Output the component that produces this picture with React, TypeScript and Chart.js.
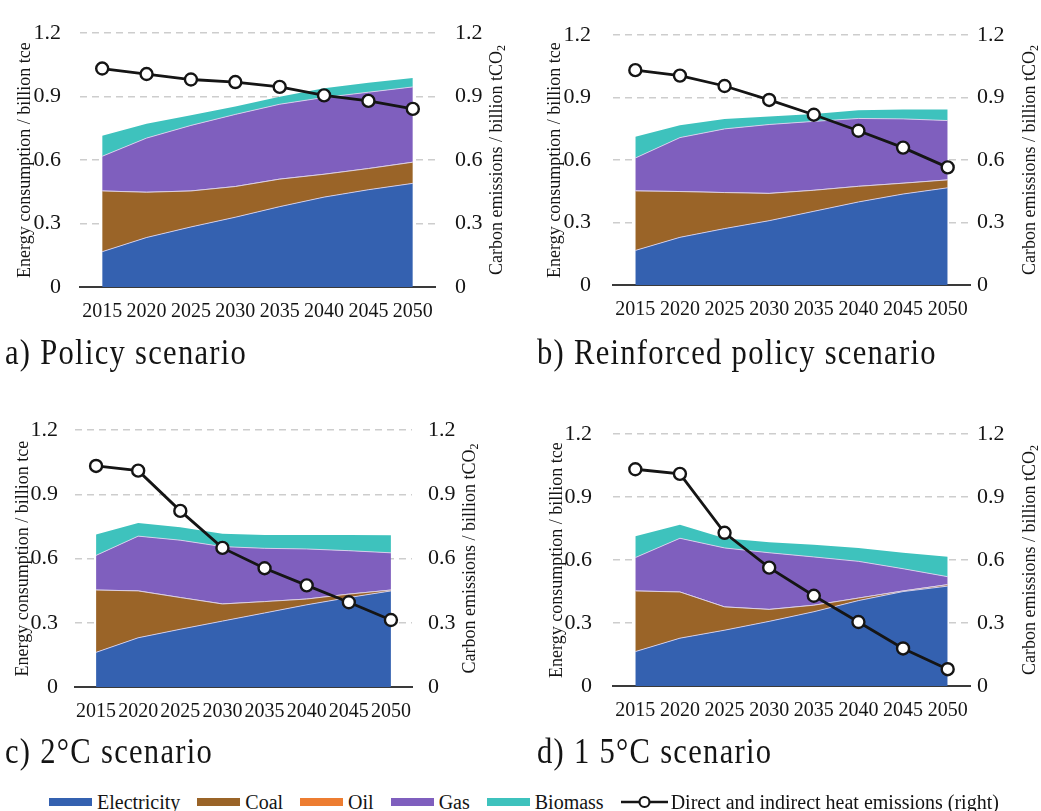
import React, { useEffect, useRef } from 'react';
import { Chart, registerables } from 'chart.js';

Chart.register(...registerables);

// ---------- data ----------
const years = ['2015', '2020', '2025', '2030', '2035', '2040', '2045', '2050'];
const seriesNames = ['Electricity', 'Coal', 'Oil', 'Gas', 'Biomass'];
const lineName = 'Direct and indirect heat emissions (right)';
const leftTitle = 'Energy consumption / billion tce';
const rightTitleMain = 'Carbon emissions / billion tCO';
const rightTitleSub = '2';

// a) Policy scenario
const policyElectricity = [0.167, 0.234, 0.284, 0.33, 0.38, 0.425, 0.46, 0.49];
const policyCoal = [0.287, 0.214, 0.17, 0.145, 0.13, 0.108, 0.1, 0.1];
const policyOil = [0, 0, 0, 0, 0, 0, 0, 0];
const policyGas = [0.164, 0.256, 0.31, 0.341, 0.354, 0.363, 0.361, 0.356];
const policyBiomass = [0.097, 0.068, 0.048, 0.038, 0.035, 0.044, 0.045, 0.042];
const policyEmissions = [1.033, 1.007, 0.981, 0.969, 0.946, 0.906, 0.88, 0.842];

// b) Reinforced policy scenario
const reinforcedElectricity = [0.166, 0.229, 0.271, 0.309, 0.354, 0.399, 0.437, 0.467];
const reinforcedCoal = [0.286, 0.22, 0.173, 0.131, 0.101, 0.075, 0.052, 0.038];
const reinforcedOil = [0, 0, 0, 0, 0, 0, 0, 0];
const reinforcedGas = [0.158, 0.259, 0.306, 0.331, 0.331, 0.326, 0.309, 0.285];
const reinforcedBiomass = [0.102, 0.06, 0.048, 0.038, 0.035, 0.039, 0.045, 0.053];
const reinforcedEmissions = [1.032, 1.006, 0.956, 0.889, 0.818, 0.741, 0.66, 0.565];

// c) 2°C scenario
const twoDegElectricity = [0.162, 0.23, 0.27, 0.308, 0.346, 0.384, 0.418, 0.449];
const twoDegCoal = [0.291, 0.219, 0.148, 0.08, 0.053, 0.027, 0.016, 0.004];
const twoDegOil = [0, 0, 0, 0, 0, 0, 0, 0];
const twoDegGas = [0.162, 0.256, 0.268, 0.268, 0.249, 0.234, 0.203, 0.174];
const twoDegBiomass = [0.098, 0.061, 0.06, 0.06, 0.062, 0.065, 0.073, 0.082];
const twoDegEmissions = [1.033, 1.011, 0.823, 0.65, 0.555, 0.475, 0.396, 0.313];

// d) 1.5°C scenario
const oneFiveElectricity = [0.164, 0.228, 0.266, 0.308, 0.354, 0.407, 0.45, 0.476];
const oneFiveCoal = [0.289, 0.22, 0.111, 0.057, 0.031, 0.012, 0.003, 0.007];
const oneFiveOil = [0, 0, 0, 0, 0, 0, 0, 0];
const oneFiveGas = [0.159, 0.256, 0.281, 0.27, 0.23, 0.175, 0.106, 0.038];
const oneFiveBiomass = [0.102, 0.065, 0.046, 0.05, 0.058, 0.064, 0.076, 0.095];
const oneFiveEmissions = [1.033, 1.011, 0.73, 0.564, 0.43, 0.305, 0.179, 0.08];

const yMin = 0;
const yMax = 1.2;
const yStep = 0.3;

// ---------- styles ----------
const COLORS = ['#3461b0', '#9a6428', '#ed7d31', '#7f5fbe', '#3ec2bd'];
const FONT = '"Liberation Serif", "DejaVu Serif", "Times New Roman", Times, serif';
const TEXT = '#141414';

type Layout = {
  left: number; top: number; width: number; height: number;
  areaLeft: number; areaRight: number; areaTop: number; areaBottom: number;
  leftTickPad: number; leftTitleX: number; rightTickPad: number; rightTitleX: number;
};

type Panel = {
  caption: string;
  captionLeft: number;
  captionTop: number;
  layout: Layout;
  series: number[][];
  emissions: number[];
};

const panels: Panel[] = [
  {
    caption: 'a) Policy scenario', captionLeft: 5, captionTop: 334,
    layout: { left: 0, top: 0, width: 515, height: 337, areaLeft: 80, areaRight: 435, areaTop: 20, areaBottom: 287, leftTickPad: 19, leftTitleX: 25, rightTickPad: 20, rightTitleX: 497 },
    series: [policyElectricity, policyCoal, policyOil, policyGas, policyBiomass],
    emissions: policyEmissions,
  },
  {
    caption: 'b) Reinforced policy scenario', captionLeft: 537, captionTop: 334,
    layout: { left: 520, top: 0, width: 521, height: 337, areaLeft: 93, areaRight: 450, areaTop: 19, areaBottom: 285, leftTickPad: 22, leftTitleX: 35, rightTickPad: 7, rightTitleX: 510 },
    series: [reinforcedElectricity, reinforcedCoal, reinforcedOil, reinforcedGas, reinforcedBiomass],
    emissions: reinforcedEmissions,
  },
  {
    caption: 'c) 2°C scenario', captionLeft: 5, captionTop: 733,
    layout: { left: 0, top: 400, width: 515, height: 337, areaLeft: 75, areaRight: 412, areaTop: 23, areaBottom: 287, leftTickPad: 17, leftTitleX: 23, rightTickPad: 16, rightTitleX: 470 },
    series: [twoDegElectricity, twoDegCoal, twoDegOil, twoDegGas, twoDegBiomass],
    emissions: twoDegEmissions,
  },
  {
    caption: 'd) 1 5°C scenario', captionLeft: 537, captionTop: 733,
    layout: { left: 520, top: 400, width: 521, height: 337, areaLeft: 93, areaRight: 450, areaTop: 23, areaBottom: 286, leftTickPad: 21, leftTitleX: 37, rightTickPad: 7, rightTitleX: 510 },
    series: [oneFiveElectricity, oneFiveCoal, oneFiveOil, oneFiveGas, oneFiveBiomass],
    emissions: oneFiveEmissions,
  },
];

const rightTitlePlugin = {
  id: 'rightTitle',
  afterDraw(chart: any, _args: any, opts: any) {
    const { ctx, chartArea } = chart;
    ctx.save();
    const cy = (chartArea.top + chartArea.bottom) / 2;
    ctx.translate(opts.x, cy);
    ctx.rotate(-Math.PI / 2);
    ctx.font = `18px ${FONT}`;
    const wMain = ctx.measureText(rightTitleMain).width;
    ctx.font = `12px ${FONT}`;
    const wSub = ctx.measureText(rightTitleSub).width;
    const total = wMain + wSub;
    ctx.fillStyle = TEXT;
    ctx.textBaseline = 'middle';
    ctx.textAlign = 'left';
    ctx.font = `18px ${FONT}`;
    ctx.fillText(rightTitleMain, -total / 2, 0);
    ctx.font = `12px ${FONT}`;
    ctx.fillText(rightTitleSub, -total / 2 + wMain, 5);
    ctx.restore();
  },
};

const fmt = (v: any) => (Number(v) === 0 ? '0' : Number(v).toFixed(1));

function PanelChart({ panel }: { panel: Panel }) {
  const ref = useRef<HTMLCanvasElement | null>(null);
  useEffect(() => {
    const L = panel.layout;
    const areaDatasets = seriesNames.map((name, i) => ({
      type: 'line' as const,
      label: name,
      data: panel.series[i],
      yAxisID: 'y',
      order: 2,
      fill: i === 0 ? 'origin' : '-1',
      backgroundColor: COLORS[i],
      borderColor: i === 4 ? 'rgba(0,0,0,0)' : 'rgba(225,215,240,0.85)',
      borderWidth: 1,
      pointRadius: 0,
      tension: 0,
    }));
    const chart = new Chart(ref.current as HTMLCanvasElement, {
      type: 'line',
      data: {
        labels: years,
        datasets: [
          {
            type: 'line',
            label: lineName,
            data: panel.emissions,
            yAxisID: 'y1',
            order: 0,
            fill: false,
            borderColor: '#151515',
            borderWidth: 2.8,
            pointRadius: 6,
            pointBorderWidth: 2.4,
            pointBackgroundColor: '#ffffff',
            pointBorderColor: '#151515',
            tension: 0,
          },
          ...areaDatasets,
        ] as any,
      },
      options: {
        animation: false,
        responsive: false,
        maintainAspectRatio: false,
        devicePixelRatio: 1,
        layout: { padding: { top: L.areaTop, bottom: 0, left: 0, right: 0 } },
        plugins: {
          legend: { display: false },
          tooltip: { enabled: false },
          rightTitle: { x: L.rightTitleX },
        } as any,
        scales: {
          x: {
            type: 'category',
            offset: true,
            grid: { display: false, drawTicks: false },
            border: { display: true, color: '#3a3a3a', width: 2 },
            ticks: { color: TEXT, font: { family: FONT, size: 20 }, padding: 13, maxRotation: 0, autoSkip: false },
            afterFit: (s: any) => { s.height = L.height - L.areaBottom; },
          },
          y: {
            position: 'left',
            stacked: true,
            min: yMin,
            max: yMax,
            ticks: { stepSize: yStep, color: TEXT, font: { family: FONT, size: 22 }, padding: L.leftTickPad, callback: fmt },
            grid: {
              display: true,
              drawOnChartArea: true,
              drawTicks: false,
              lineWidth: 1.5,
              color: (c: any) => (c.index === 0 ? 'rgba(0,0,0,0)' : '#cdcdcd'),
            },
            border: { display: true, width: 0, color: 'rgba(0,0,0,0)', dash: [7, 5] },
            title: {
              display: true,
              text: leftTitle,
              color: TEXT,
              font: { family: FONT, size: 18 },
              padding: { top: L.leftTitleX - 10.8, bottom: 0 },
            },
            afterFit: (s: any) => { s.width = L.areaLeft; },
          },
          y1: {
            position: 'right',
            min: yMin,
            max: yMax,
            ticks: { stepSize: yStep, color: TEXT, font: { family: FONT, size: 22 }, padding: L.rightTickPad, callback: fmt },
            grid: { display: false, drawTicks: false },
            border: { display: false },
            afterFit: (s: any) => { s.width = L.width - L.areaRight; },
          },
        },
      } as any,
      plugins: [rightTitlePlugin as any],
    });
    return () => chart.destroy();
  }, [panel]);

  const L = panel.layout;
  return (
    <div style={{ position: 'absolute', left: L.left, top: L.top, width: L.width, height: L.height }}>
      <canvas ref={ref} width={L.width} height={L.height} style={{ width: L.width, height: L.height, display: 'block' }} />
    </div>
  );
}

function Caption({ panel }: { panel: Panel }) {
  return (
    <div
      style={{
        position: 'absolute',
        left: panel.captionLeft,
        top: panel.captionTop,
        fontFamily: FONT,
        fontSize: 36,
        lineHeight: '36px',
        letterSpacing: '1.5px',
        color: TEXT,
        whiteSpace: 'nowrap',
        transform: 'scaleX(0.85)',
        transformOrigin: 'left top',
      }}
    >
      {panel.caption}
    </div>
  );
}

function Legend() {
  return (
    <div
      style={{
        position: 'absolute',
        left: 49,
        top: 790,
        height: 24,
        display: 'flex',
        alignItems: 'center',
        fontFamily: FONT,
        fontSize: 20,
        lineHeight: '24px',
        color: TEXT,
        whiteSpace: 'nowrap',
      }}
    >
      {seriesNames.map((name, i) => (
        <div key={name} style={{ display: 'flex', alignItems: 'center', marginRight: 17 }}>
          <div style={{ width: 43, height: 8, background: COLORS[i], marginRight: 5 }} />
          <span>{name}</span>
        </div>
      ))}
      <div style={{ display: 'flex', alignItems: 'center' }}>
        <svg width={47} height={14} style={{ marginRight: 3 }}>
          <line x1={0} y1={7} x2={47} y2={7} stroke="#151515" strokeWidth={2.5} />
          <circle cx={23.5} cy={7} r={5} fill="#fff" stroke="#151515" strokeWidth={2.2} />
        </svg>
        <span>{lineName}</span>
      </div>
    </div>
  );
}

export default function App() {
  return (
    <div style={{ position: 'absolute', left: 0, top: 0, width: 1041, height: 811, background: '#ffffff', overflow: 'hidden' }}>
      {panels.map((p) => (
        <PanelChart key={p.caption} panel={p} />
      ))}
      {panels.map((p) => (
        <Caption key={'c' + p.caption} panel={p} />
      ))}
      <Legend />
    </div>
  );
}
